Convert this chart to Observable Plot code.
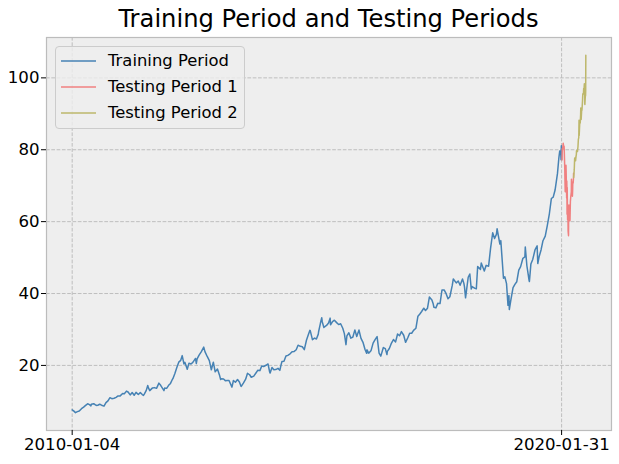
<!DOCTYPE html>
<html>
<head>
<meta charset="utf-8">
<script src="https://cdn.jsdelivr.net/npm/d3@7"></script>
<script src="https://cdn.jsdelivr.net/npm/@observablehq/plot@0.6"></script>
<style>
  html, body { margin: 0; padding: 0; background: #ffffff; }
  #wrap { position: relative; width: 619px; height: 464px; font-family: "DejaVu Sans", sans-serif; }
  #title { position: absolute; left: 46px; width: 565px; top: 5px; text-align: center; font-size: 24.2px; color: #000; white-space: nowrap; }
  #legend { position: absolute; left: 55px; top: 46px; width: 190px; height: 83px; box-sizing: border-box;
            border: 1px solid #cccccc; border-radius: 4px; background: rgba(238,238,238,0.8); }
  .row { position: absolute; left: 0; height: 20px; font-size: 16.4px; color: #000; white-space: nowrap; }
  .row svg { position: absolute; left: 5px; top: 0; }
  .row span { position: absolute; left: 52px; top: 0; line-height: 20px; }
</style>
</head>
<body>
<div id="wrap">
  <div id="chart"></div>
  <div id="title">Training Period and Testing Periods</div>
  <div id="legend"></div>
</div>
<script>
// ---- Data (AAPL close) ----
const trainDates = [
"2010-01-04","2010-01-15","2010-01-29","2010-02-12","2010-02-26","2010-03-15","2010-03-31","2010-04-15","2010-04-30","2010-05-14","2010-05-25","2010-05-28","2010-06-15","2010-06-30","2010-07-06","2010-07-15","2010-07-30","2010-08-13","2010-08-31","2010-09-15","2010-09-30","2010-10-15","2010-10-29","2010-11-15","2010-11-30","2010-12-15","2010-12-31",
"2011-01-18","2011-01-31","2011-02-16","2011-02-28","2011-03-16","2011-03-31","2011-04-15","2011-04-29","2011-05-16","2011-05-31","2011-06-15","2011-06-24","2011-06-30","2011-07-15","2011-07-26","2011-07-29","2011-08-10","2011-08-31","2011-09-15","2011-09-30","2011-10-18","2011-10-31","2011-11-25","2011-11-30","2011-12-15","2011-12-30",
"2012-01-13","2012-01-25","2012-01-31","2012-02-15","2012-02-29","2012-03-15","2012-03-30","2012-04-10","2012-04-23","2012-04-30","2012-05-18","2012-05-31","2012-06-15","2012-06-29","2012-07-19","2012-07-25","2012-07-31","2012-08-15","2012-08-31","2012-09-19","2012-09-28","2012-10-15","2012-10-31","2012-11-15","2012-11-30","2012-12-14","2012-12-31",
"2013-01-15","2013-01-24","2013-01-31","2013-02-15","2013-02-28","2013-03-15","2013-03-28","2013-04-19","2013-04-30","2013-05-15","2013-05-31","2013-06-14","2013-06-26","2013-06-28","2013-07-15","2013-07-31","2013-08-14","2013-08-30","2013-09-11","2013-09-30","2013-10-15","2013-10-31","2013-11-15","2013-11-29","2013-12-13","2013-12-31",
"2014-01-15","2014-01-28","2014-01-31","2014-02-14","2014-02-28","2014-03-14","2014-03-31","2014-04-14","2014-04-24","2014-04-30","2014-05-15","2014-05-30","2014-06-13","2014-06-30","2014-07-15","2014-07-31","2014-08-15","2014-08-29","2014-09-15","2014-09-30","2014-10-15","2014-10-31","2014-11-14","2014-11-26","2014-11-28","2014-12-15","2014-12-31",
"2015-01-14","2015-01-28","2015-01-30","2015-02-13","2015-02-23","2015-02-27","2015-03-11","2015-03-31","2015-04-15","2015-04-27","2015-04-30","2015-05-15","2015-05-29","2015-06-15","2015-06-30","2015-07-15","2015-07-31","2015-08-12","2015-08-24","2015-08-31","2015-09-15","2015-09-30","2015-10-15","2015-10-30","2015-11-13","2015-11-30","2015-12-15","2015-12-31",
"2016-01-15","2016-01-27","2016-01-29","2016-02-11","2016-02-29","2016-03-15","2016-03-31","2016-04-14","2016-04-29","2016-05-12","2016-05-31","2016-06-15","2016-06-27","2016-06-30","2016-07-15","2016-07-29","2016-08-15","2016-08-31","2016-09-15","2016-09-30","2016-10-14","2016-10-31","2016-11-14","2016-11-30","2016-12-15","2016-12-30",
"2017-01-13","2017-01-31","2017-02-15","2017-02-28","2017-03-15","2017-03-31","2017-04-13","2017-04-28","2017-05-12","2017-05-31","2017-06-09","2017-06-15","2017-06-30","2017-07-14","2017-07-31","2017-08-15","2017-08-31","2017-09-15","2017-09-29","2017-10-13","2017-10-31","2017-11-08","2017-11-30","2017-12-15","2017-12-29",
"2018-01-16","2018-01-26","2018-01-31","2018-02-08","2018-02-28","2018-03-12","2018-03-23","2018-03-29","2018-04-20","2018-04-30","2018-05-10","2018-05-31","2018-06-06","2018-06-29","2018-07-13","2018-07-31","2018-08-15","2018-08-31","2018-09-14","2018-09-28","2018-10-03","2018-10-24","2018-10-31","2018-11-20","2018-11-30","2018-12-13","2018-12-24","2018-12-31",
"2019-01-03","2019-01-15","2019-01-31","2019-02-15","2019-02-28","2019-03-15","2019-03-29","2019-04-15","2019-04-30","2019-05-03","2019-05-15","2019-05-31","2019-06-03","2019-06-14","2019-06-28","2019-07-15","2019-07-31","2019-08-05","2019-08-15","2019-08-30","2019-09-13","2019-09-30","2019-10-15","2019-10-31","2019-11-15","2019-11-29","2019-12-13","2019-12-31",
"2020-01-10","2020-01-17","2020-01-24","2020-01-27","2020-01-29","2020-01-31"
];
const trainValues = [
7.64,7.35,6.86,7.15,7.31,7.96,8.39,8.87,9.32,9.08,8.75,9.17,9.34,8.98,8.86,8.93,9.19,8.93,8.67,9.65,10.13,11.02,10.74,10.87,11.11,11.52,11.52,
12.17,12.12,12.85,12.61,11.79,12.45,11.69,12.5,11.9,12.42,11.9,11.66,11.99,13.05,14.41,13.95,12.99,13.74,13.82,13.62,15.08,14.46,12.98,13.69,13.61,14.46,
14.99,15.95,16.3,17.77,19.37,20.91,21.41,22.72,20.42,20.86,18.94,20.63,20.4,20.86,21.94,20.53,21.81,22.87,23.76,25.08,23.83,22.49,21.31,18.77,20.9,18.21,19.01,
17.35,16.09,16.27,16.2,15.76,15.83,15.81,13.95,15.81,15.32,16.06,15.39,14.22,14.16,15.13,16.16,17.8,17.4,16.7,17.03,17.81,18.67,18.55,19.86,19.7,20.04,
20.4,18.09,17.88,19.43,18.79,18.83,19.17,18.63,20.28,21.07,21.14,22.61,22.8,23.23,23.8,23.9,24.37,25.63,25.3,25.19,24.39,27.0,28.5,29.75,29.73,27.16,27.6,
27.35,28.7,29.29,31.72,33.25,32.11,30.56,31.11,31.78,33.16,31.29,32.2,32.57,31.9,31.36,31.6,30.33,28.85,25.78,28.19,29.08,27.58,27.9,29.88,28.06,29.83,27.5,26.32,
24.35,23.36,24.34,23.4,24.17,26.2,27.25,28.03,23.43,22.58,24.97,24.66,23.01,23.9,24.7,26.05,27.2,26.53,28.74,28.26,29.4,28.39,26.43,27.63,28.96,28.95,
29.76,30.34,33.7,34.25,35.0,35.92,35.26,35.91,39.02,38.19,37.24,36.18,36.0,37.26,37.19,40.99,41.0,39.97,38.53,39.1,42.26,44.06,42.96,43.5,42.31,
44.05,42.88,41.86,38.79,44.53,45.43,41.24,41.95,41.43,41.31,47.51,46.72,48.5,46.28,47.84,47.57,52.56,56.91,55.33,56.44,58.02,53.77,54.72,44.24,44.65,42.74,36.71,39.44,
35.55,38.27,41.61,42.6,43.29,46.53,47.49,49.81,50.17,52.94,47.73,43.77,43.33,48.19,49.48,52.12,53.26,48.33,50.25,52.19,54.69,55.99,58.83,62.19,66.44,66.81,68.79,73.41,
77.58,79.68,79.58,77.24,81.08,77.38
];
const test1Dates = ["2020-02-03","2020-02-05","2020-02-07","2020-02-12","2020-02-14","2020-02-19","2020-02-21","2020-02-24","2020-02-25","2020-02-27","2020-02-28","2020-03-02","2020-03-03","2020-03-04","2020-03-06","2020-03-09","2020-03-10","2020-03-11","2020-03-12","2020-03-13","2020-03-16","2020-03-17","2020-03-18","2020-03-19","2020-03-20","2020-03-23","2020-03-24","2020-03-25","2020-03-26","2020-03-27","2020-03-30","2020-03-31","2020-04-01","2020-04-03","2020-04-06","2020-04-08","2020-04-09","2020-04-13","2020-04-14","2020-04-15","2020-04-17","2020-04-21","2020-04-23","2020-04-24","2020-04-27","2020-04-29","2020-04-30"];
const test1Values = [77.17,80.36,80.01,81.8,81.24,80.9,78.26,74.54,72.02,68.38,68.34,74.7,72.33,75.68,72.26,66.54,71.33,68.86,62.06,69.49,60.55,63.22,61.67,61.19,57.31,56.09,61.72,61.38,64.61,61.94,63.7,63.57,60.23,60.35,65.62,66.52,66.99,68.31,71.76,71.11,70.7,67.09,68.76,70.74,70.79,71.93,73.45];
const test2Dates = ["2020-05-01","2020-05-05","2020-05-08","2020-05-12","2020-05-13","2020-05-15","2020-05-19","2020-05-21","2020-05-22","2020-05-27","2020-05-29","2020-06-02","2020-06-05","2020-06-08","2020-06-10","2020-06-11","2020-06-12","2020-06-16","2020-06-19","2020-06-22","2020-06-23","2020-06-26","2020-06-29","2020-06-30","2020-07-02","2020-07-06","2020-07-08","2020-07-10","2020-07-13","2020-07-15","2020-07-17","2020-07-20","2020-07-22","2020-07-23","2020-07-24","2020-07-27","2020-07-29","2020-07-30","2020-07-31"];
const test2Values = [72.27,74.39,77.53,77.85,76.91,76.93,78.29,78.74,79.72,79.53,79.49,80.83,82.88,83.36,88.21,83.97,84.7,88.02,87.43,89.72,91.63,88.41,90.45,91.2,91.03,93.46,95.34,95.68,95.48,97.06,96.33,98.36,97.27,92.85,92.62,94.81,95.04,96.19,106.26];

const seriesNames = ["Training Period", "Testing Period 1", "Testing Period 2"];
const seriesColors = ["#4682b4", "#f08080", "#bdb76b"];
const xTickLabels = ["2010-01-04", "2020-01-31"];
const yTicks = [20, 40, 60, 80, 100];

// ---- Build table ----
const parse = d3.utcParse("%Y-%m-%d");
const rows = [];
[[trainDates, trainValues], [test1Dates, test1Values], [test2Dates, test2Values]].forEach(([ds, vs], i) => {
  ds.forEach((d, j) => rows.push({date: parse(d), value: vs[j], series: seriesNames[i]}));
});

// matplotlib-like 5% margins
const xExt = d3.extent(rows, d => d.date);
const xPad = (xExt[1] - xExt[0]) * 0.05;
const yExt = d3.extent(rows, d => d.value);
const yPad = (yExt[1] - yExt[0]) * 0.05;

const plot = Plot.plot({
  width: 619,
  height: 464,
  marginTop: 37,
  marginBottom: 34,
  marginLeft: 46,
  marginRight: 8,
  style: {fontFamily: "DejaVu Sans, sans-serif", fontSize: "16.5px", color: "#000", background: "transparent"},
  x: {type: "utc", domain: [new Date(+xExt[0] - xPad), new Date(+xExt[1] + xPad)], label: null},
  y: {domain: [yExt[0] - yPad, yExt[1] + yPad], label: null},
  color: {domain: seriesNames, range: seriesColors},
  marks: [
    Plot.frame({fill: "#eeeeee", stroke: null}),
    Plot.gridX(xTickLabels.map(parse), {stroke: "#b2b2b2", strokeOpacity: 1, strokeDasharray: "3.7,1.6", strokeWidth: 0.8}),
    Plot.gridY(yTicks, {stroke: "#b2b2b2", strokeOpacity: 1, strokeDasharray: "3.7,1.6", strokeWidth: 0.8}),
    Plot.line(rows, {x: "date", y: "value", z: "series", stroke: "series", strokeWidth: 1.5}),
    Plot.frame({stroke: "#bcbcbc", strokeWidth: 1.2}),
    Plot.axisX(xTickLabels.map(parse), {tickSize: 5, tickPadding: 3, tickFormat: d3.utcFormat("%Y-%m-%d"), stroke: "#000", fontSize: 16.6, label: null}),
    Plot.axisY(yTicks, {tickSize: 5, tickPadding: 2, fontSize: 16.6, label: null})
  ]
});
document.getElementById("chart").appendChild(plot);

// ---- Legend ----
const leg = document.getElementById("legend");
seriesNames.forEach((name, i) => {
  const row = document.createElement("div");
  row.className = "row";
  row.style.top = (4 + i * 26) + "px";
  row.innerHTML = `<svg width="40" height="20"><line x1="0" x2="35" y1="10" y2="10" stroke="${seriesColors[i]}" stroke-width="1.4"/></svg><span>${name}</span>`;
  leg.appendChild(row);
});
</script>
</body>
</html>
